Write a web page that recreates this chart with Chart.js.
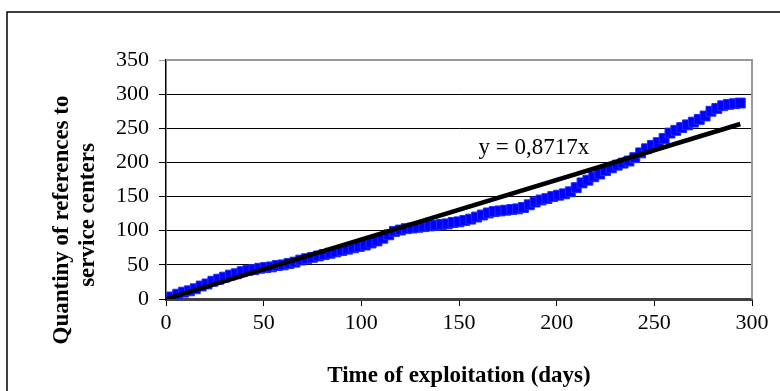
<!DOCTYPE html>
<html lang="en">
<head>
  <meta charset="UTF-8">
  <title>Service center references</title>
  <script src="https://cdn.jsdelivr.net/npm/chart.js@4.4.1/dist/chart.umd.min.js"></script>
  <style>
    html, body { margin: 0; padding: 0; background: #fff; }
    #wrap { width: 780px; height: 391px; }
  </style>
</head>
<body>
<div id="wrap"><canvas id="myChart" width="780" height="391"></canvas></div>

<script>
// days of exploitation and cumulative references
const days = [0,3,6,9,12,15,18,21,24,27,30,33,36,39,42,45,48,51,54,57,60,63,66,69,72,75,78,81,84,87,90,93,96,99,
  102,105,108,111,114,117,120,123,126,129,132,135,138,141,144,147,150,153,156,159,162,165,168,171,174,177,180,
  183,186,189,192,195,198,201,204,207,210,213,216,219,222,225,228,231,234,237,240,243,246,249,252,255,258,261,
  264,267,270,273,276,279,282,285,288,291,294];
const refs = [0,3,7,10,12,15,19,22,26,29,32,35,37,40,42,43,45,46,47,49,50,52,54,57,59,61,63,65,67,69,71,73,75,77,
  79,82,85,89,94,99,101,103,104,105,106,107,108,109,110,112,113,115,117,120,123,126,128,129,130,131,132,
  134,138,142,145,147,150,152,154,157,163,170,174,179,183,188,192,196,199,202,207,214,220,225,229,235,243,247,
  251,255,259,263,268,275,279,283,285,286,287];
const slope = 0.8717;
const trendDays = [0, 294];
const xTicks = [0, 50, 100, 150, 200, 250, 300];
const yTicks = [0, 50, 100, 150, 200, 250, 300, 350];

const serif = '"Liberation Serif", "Times New Roman", serif';

const points = days.map((d, i) => ({ x: d, y: refs[i] }));
const trend = trendDays.map(d => ({ x: d, y: slope * d }));

// frame, plot border, rotated y title and equation label
const extras = {
  id: 'extras',
  beforeDatasetsDraw(chart) {
    const { ctx, chartArea: a } = chart;
    ctx.save();
    ctx.strokeStyle = '#999';
    ctx.lineWidth = 2;
    ctx.beginPath();
    ctx.moveTo(a.left, a.top);
    ctx.lineTo(a.right, a.top);
    ctx.lineTo(a.right, a.bottom);
    ctx.stroke();
    ctx.restore();
  },
  afterDraw(chart) {
    const { ctx, scales } = chart;
    ctx.save();
    ctx.strokeStyle = '#000';
    ctx.lineWidth = 1.5;
    ctx.strokeRect(7, 12, 800, 400);

    ctx.fillStyle = '#000';
    ctx.font = 'bold 23px ' + serif;
    ctx.textAlign = 'center';
    ctx.textBaseline = 'middle';
    ctx.translate(62, 220);
    ctx.rotate(-Math.PI / 2);
    ctx.fillText('Quantiny of references to', 0, 0);
    ctx.fillText('service centers', 5, 26);
    ctx.restore();

    ctx.save();
    ctx.fillStyle = '#000';
    ctx.font = '23px ' + serif;
    ctx.textAlign = 'left';
    ctx.textBaseline = 'middle';
    ctx.fillText('y = 0,8717x', scales.x.getPixelForValue(160), scales.y.getPixelForValue(221));
    ctx.restore();
  }
};

const ctx = document.getElementById('myChart').getContext('2d');

const myChart = new Chart(ctx, {
  type: 'scatter',
  data: {
    datasets: [
      {
        label: 'trend',
        data: trend,
        showLine: true,
        borderColor: '#000',
        borderWidth: 4.5,
        pointRadius: 0,
        order: 0
      },
      {
        label: 'references',
        data: points,
        pointStyle: 'rect',
        pointRadius: 7,
        backgroundColor: '#0000ff',
        borderColor: '#1a2cff',
        borderWidth: 1,
        order: 1
      }
    ]
  },
  options: {
    responsive: false,
    animation: false,
    layout: { padding: { top: 60, right: 28, left: 0, bottom: 0 } },
    plugins: {
      legend: { display: false },
      tooltip: { enabled: false }
    },
    scales: {
      x: {
        type: 'linear',
        min: 0,
        max: 300,
        afterFit: s => { s.height = 92; },
        afterBuildTicks: s => { s.ticks = xTicks.map(v => ({ value: v })); },
        border: { color: '#404040', width: 3 },
        grid: { drawOnChartArea: false, color: '#000', tickLength: 7, tickWidth: 1 },
        ticks: { color: '#000', font: { family: serif, size: 22 }, padding: 4, maxRotation: 0 },
        title: {
          display: true,
          text: 'Time of exploitation (days)',
          color: '#000',
          font: { family: serif, size: 23, weight: 'bold', lineHeight: 1.15 },
          padding: { top: 0, bottom: 2 }
        }
      },
      y: {
        min: 0,
        max: 350,
        afterFit: s => { s.width = 166; },
        afterBuildTicks: s => { s.ticks = yTicks.map(v => ({ value: v })); },
        border: { color: '#000', width: 1.5 },
        grid: {
          color: c => (c.tick && c.tick.value === 350 ? '#999' : '#000'),
          lineWidth: 1,
          tickLength: 7
        },
        ticks: { color: '#000', font: { family: serif, size: 22 }, padding: 10 }
      }
    }
  },
  plugins: [extras]
});
</script>
</body>
</html>
